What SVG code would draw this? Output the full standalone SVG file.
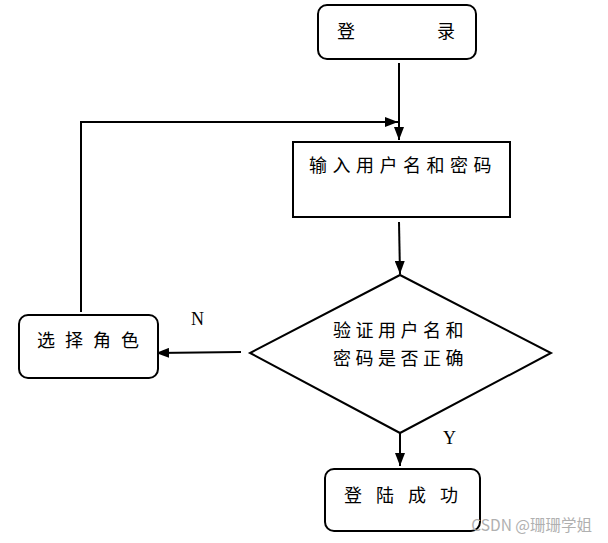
<svg xmlns="http://www.w3.org/2000/svg" width="608" height="543" viewBox="0 0 608 543">
<style>
.box{fill:#fff;stroke:#000;stroke-width:2}
.t{font-family:"Noto Sans CJK SC","Noto Sans CJK JP",sans-serif;font-size:18px;fill:#000}
.l{font-family:"Liberation Serif",serif;font-size:18px;fill:#000}
.c{fill:none;stroke:#000;stroke-width:2}
</style>
<defs>
<marker id="a" viewBox="0 0 13 10" refX="13" refY="5" markerWidth="13" markerHeight="10" markerUnits="userSpaceOnUse" orient="auto">
<path d="M0,0 L13,5 L0,10 Z" fill="#000"/>
</marker>
</defs>
<rect width="608" height="543" fill="#fff"/>
<g id="connectors">
<path class="c" d="M399,63 V140" marker-end="url(#a)"/>
<path class="c" d="M81,312 V122 H398" marker-end="url(#a)"/>
<path class="c" d="M399,222 L400,274" marker-end="url(#a)"/>
<path class="c" d="M241,352 L156,353" marker-end="url(#a)"/>
<path class="c" d="M400,433 L400,466" marker-end="url(#a)"/>
</g>
<g id="login">
<rect class="box" x="318" y="5" width="158" height="54" rx="9"/>
<text class="t" x="337" y="38">登</text>
<text class="t" x="437" y="38">录</text>
</g>
<g id="input">
<rect class="box" x="293" y="142" width="217" height="75"/>
<text class="t" x="309" y="172" letter-spacing="5.5">输入用户名和密码</text>
</g>
<g id="verify">
<polygon class="box" points="400,275 551,353 400,433 250,353"/>
<text class="t" x="333" y="337" letter-spacing="4.5">验证用户名和</text>
<text class="t" x="333" y="365" letter-spacing="4.5">密码是否正确</text>
</g>
<g id="role">
<rect class="box" x="19" y="315" width="139" height="63" rx="9"/>
<text class="t" x="37" y="347" letter-spacing="10">选择角色</text>
</g>
<g id="success">
<rect class="box" x="325" y="469" width="155" height="62" rx="9"/>
<text class="t" x="344" y="502" letter-spacing="14">登陆成功</text>
</g>
<text class="l" x="191" y="325">N</text>
<text class="l" x="443" y="444">Y</text>
<text x="592" y="531" text-anchor="end" font-family="'Noto Sans CJK SC',sans-serif" font-size="15.5" fill="#b0b0b0">CSDN @珊珊学姐</text>
</svg>
